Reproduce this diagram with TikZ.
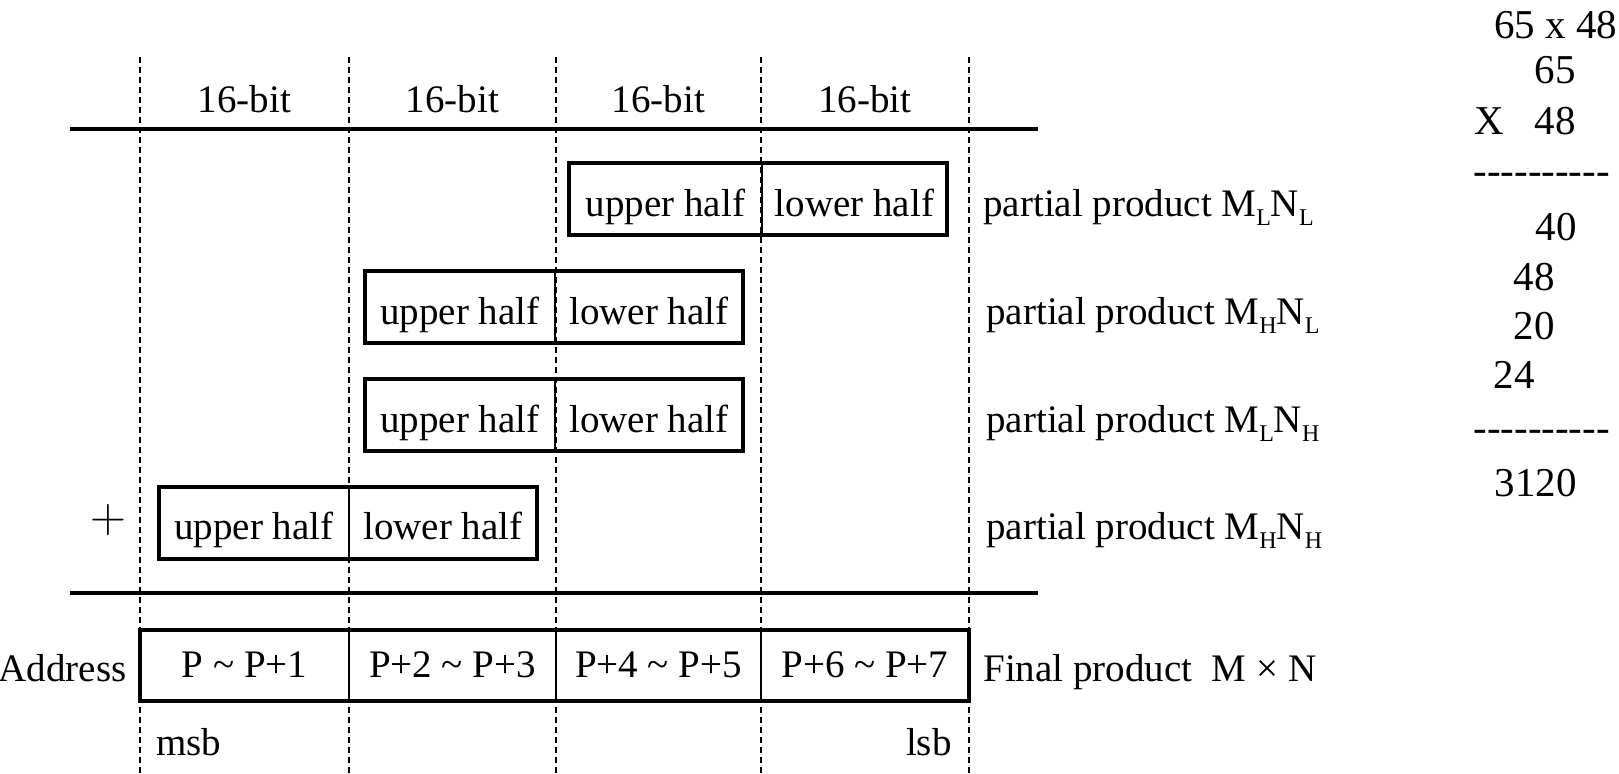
\documentclass[tikz,border=0pt]{standalone}
\usepackage{fontspec}
\setmainfont{Liberation Serif}
\usetikzlibrary{positioning}
\newcommand{\subidx}[1]{\raisebox{-4.5pt}{\fontsize{12}{12}\selectfont #1}}
\newcommand{\dashrow}{-{}-{}-{}-{}-{}-{}-{}-{}-{}-}

\begin{document}
\begin{tikzpicture}[x=0.5pt, y=-0.5pt, font=\fontsize{19.5}{23}\selectfont,
    grid/.style={line width=0.9pt, dash pattern=on 3.2pt off 1.8pt},
    rule/.style={line width=2pt},
    frame/.style={line width=2pt},
    sep/.style={line width=1pt},
    half/.style={minimum height=36pt, inner sep=0pt, outer sep=0pt, text height=20pt, text depth=3pt},
    cell/.style={minimum height=35.5pt, inner sep=0pt, outer sep=0pt},
    lbl/.style={inner sep=0pt},
    arith/.style={inner sep=0pt, font=\fontsize{20.5}{24}\selectfont}]
  \useasboundingbox (0,0) rectangle (1619,773);

  % 16-bit word columns
  \foreach \x [count=\i] in {140,349,556,761,969} {
    \coordinate (t\i) at (\x,57); \coordinate (b\i) at (\x,773);
    \draw[grid] (t\i) -- (b\i);
  }
  \foreach \x [count=\i] in {244.5,452.5,658.5,865}
    \node[lbl] (bit\i) at (\x,99) {16-bit};

  % rules
  \coordinate (ra) at (70,129); \coordinate (rb) at (1038,129);
  \coordinate (rc) at (70,593); \coordinate (rd) at (1038,593);
  \draw[rule] (ra) -- (rb);
  \draw[rule] (rc) -- (rd);

  % partial products
  \node[half, minimum width=96.5pt] (p1u) at (665.5,199) {upper half};
  \node[half, minimum width=92.5pt, right=0pt of p1u] (p1l) {lower half};
  \node[half, minimum width=95pt] (p2u) at (460,307) {upper half};
  \node[half, minimum width=94pt, right=0pt of p2u] (p2l) {lower half};
  \node[half, minimum width=95pt] (p3u) at (460,415) {upper half};
  \node[half, minimum width=94pt, right=0pt of p3u] (p3l) {lower half};
  \node[half, minimum width=95pt] (p4u) at (254,522.5) {upper half};
  \node[half, minimum width=94pt, right=0pt of p4u] (p4l) {lower half};
  \foreach \i in {1,...,4} {
    \draw[frame] (p\i u.north west) rectangle (p\i l.south east);
    \draw[sep] (p\i u.north east) -- (p\i u.south east);
  }
  \node[lbl, anchor=base west] (pp1) at (983,216) {partial product M\subidx{L}N\subidx{L}};
  \node[lbl, anchor=base west] (pp2) at (986,324) {partial product M\subidx{H}N\subidx{L}};
  \node[lbl, anchor=base west] (pp3) at (986,432) {partial product M\subidx{L}N\subidx{H}};
  \node[lbl, anchor=base west] (pp4) at (986,539) {partial product M\subidx{H}N\subidx{H}};
  \node[lbl, font=\fontsize{30}{30}\selectfont] (plus) at (108,520) {$+$};

  % final product
  \node[cell, minimum width=104.5pt] (f1) at (244.5,665) {P \textasciitilde{} P+1};
  \node[cell, minimum width=103.5pt, right=0pt of f1] (f2) {P+2 \textasciitilde{} P+3};
  \node[cell, minimum width=102.5pt, right=0pt of f2] (f3) {P+4 \textasciitilde{} P+5};
  \node[cell, minimum width=104pt, right=0pt of f3] (f4) {P+6 \textasciitilde{} P+7};
  \draw[frame] (f1.north west) rectangle (f4.south east);
  \foreach \i in {1,2,3}
    \draw[sep] (f\i.north east) -- (f\i.south east);
  \node[lbl, anchor=base east] (addr) at (127,681) {Address};
  \node[lbl, anchor=base west] (fin) at (983,681) {Final product~~M × N};
  \node[lbl, anchor=west] (msb) at (156,742) {msb};
  \node[lbl, anchor=east] (lsb) at (952,742) {lsb};

  % decimal example
  \node[arith, anchor=west] (ex) at (1494,25) {65 x 48};
  \node[arith, anchor=east] (ma) at (1576,70) {65};
  \node[arith, anchor=west] (mx) at (1474,121) {X};
  \node[arith, anchor=east] (mb) at (1576,121) {48};
  \node[arith, anchor=west] (da) at (1473,179) {\dashrow};
  \node[arith, anchor=east] (s1) at (1577,227) {40};
  \node[arith, anchor=east] (s2) at (1555,277) {48};
  \node[arith, anchor=east] (s3) at (1555,326) {20};
  \node[arith, anchor=east] (s4) at (1535,375) {24};
  \node[arith, anchor=west] (db) at (1473,436) {\dashrow};
  \node[arith, anchor=east] (tot) at (1577,483) {3120};
\end{tikzpicture}
\end{document}
